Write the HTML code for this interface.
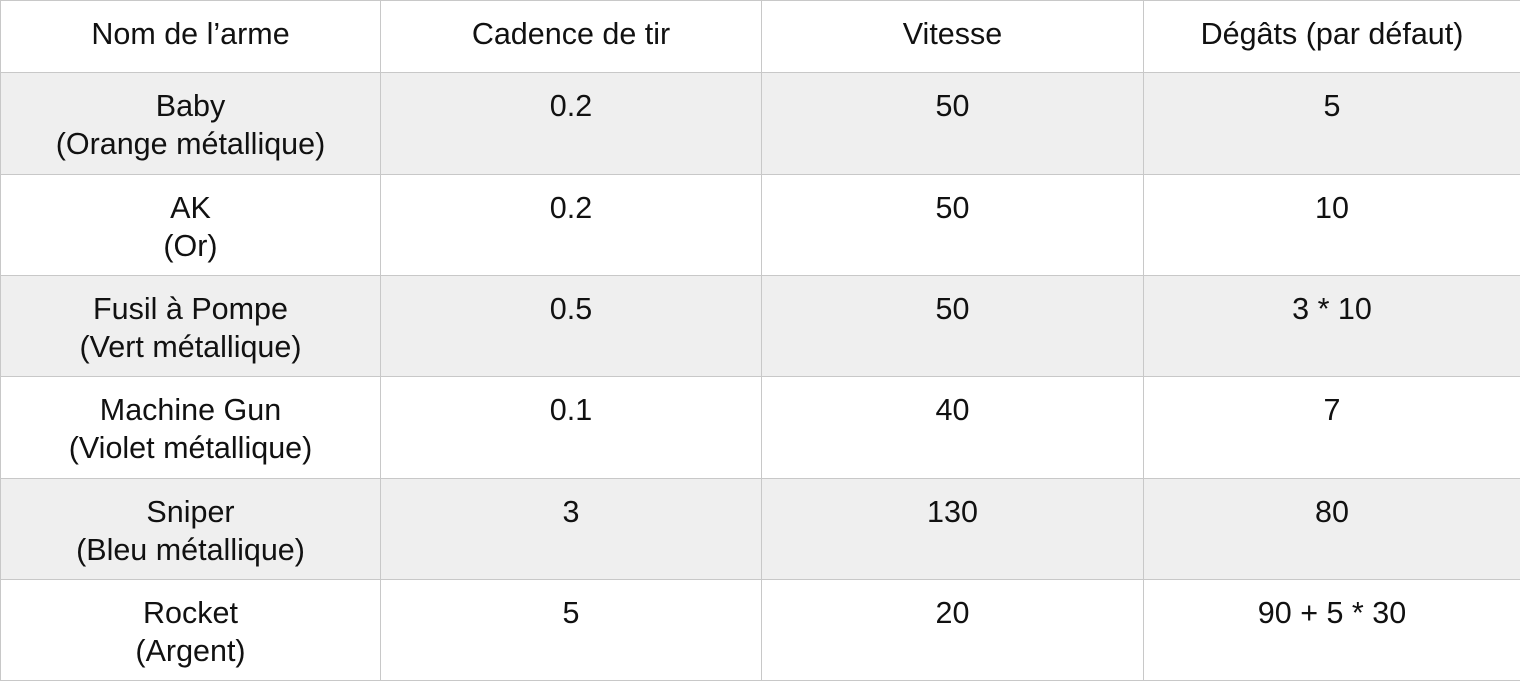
<!DOCTYPE html>
<html><head><meta charset="utf-8"><style>
html,body{margin:0;padding:0;background:#fff;}
body{width:1520px;height:682px;overflow:hidden;font-family:"Liberation Sans",Arial,sans-serif;color:#111;}
table{border-collapse:collapse;position:absolute;left:0;top:0;width:1520px;table-layout:fixed;}
td,th{border:1px solid #c8c8c8;text-align:center;vertical-align:top;font-size:30.5px;font-weight:normal;line-height:38px;padding:0;}
th{height:71px;line-height:66px;}
td{padding-top:14px;box-sizing:border-box;}
tr.a td{height:102px;}
tr.b td{height:101px;}
tr.g td{background:#efefef;}
</style></head><body>
<table>
<colgroup><col style="width:380px"><col style="width:381px"><col style="width:382px"><col style="width:377px"></colgroup>
<tr><th>Nom de l’arme</th><th>Cadence de tir</th><th>Vitesse</th><th>Dégâts (par défaut)</th></tr>
<tr class="g a"><td>Baby<br>(Orange métallique)</td><td>0.2</td><td>50</td><td>5</td></tr>
<tr class="b"><td>AK<br>(Or)</td><td>0.2</td><td>50</td><td>10</td></tr>
<tr class="g b"><td>Fusil à Pompe<br>(Vert métallique)</td><td>0.5</td><td>50</td><td>3 * 10</td></tr>
<tr class="a"><td>Machine Gun<br>(Violet métallique)</td><td>0.1</td><td>40</td><td>7</td></tr>
<tr class="g b"><td>Sniper<br>(Bleu métallique)</td><td>3</td><td>130</td><td>80</td></tr>
<tr class="b"><td>Rocket<br>(Argent)</td><td>5</td><td>20</td><td>90 + 5 * 30</td></tr>
</table>
</body></html>
